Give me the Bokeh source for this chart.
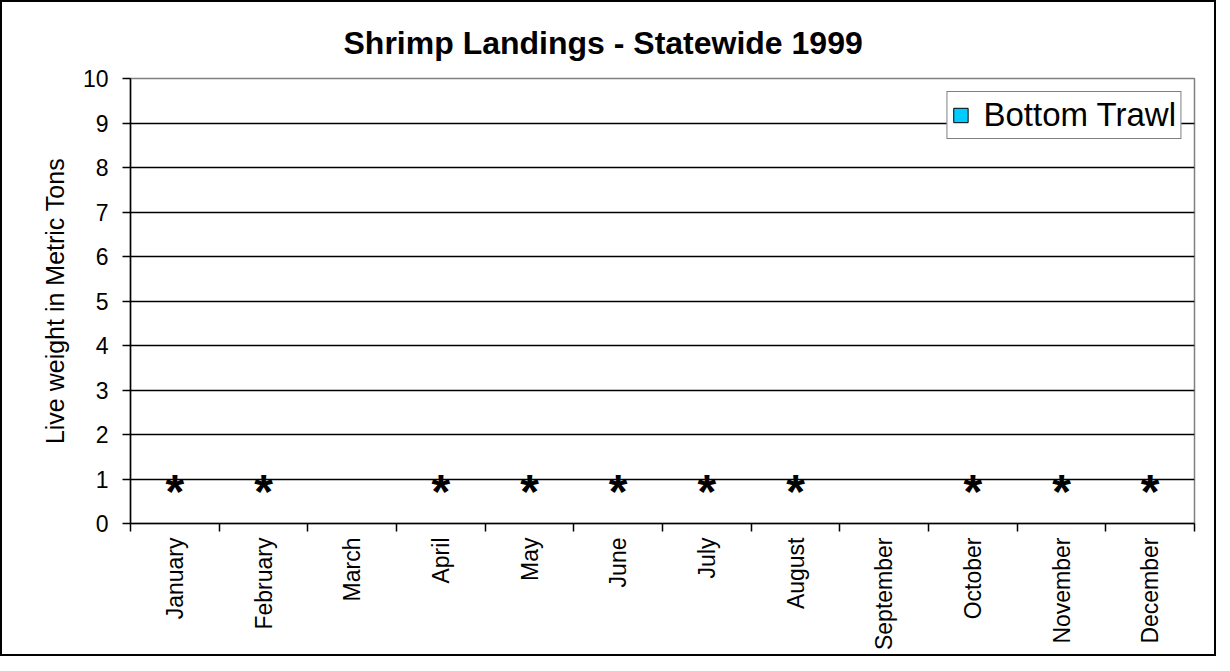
import math
from bokeh.plotting import figure
from bokeh.models import ColumnDataSource, FixedTicker, Range1d, Legend, LegendItem
from bokeh.core.properties import value
from bokeh.embed import file_html
from bokeh.resources import INLINE

# ---- data ----
months = ["January", "February", "March", "April", "May", "June", "July",
          "August", "September", "October", "November", "December"]
bottom_trawl = [0, 0, 0, 0, 0, 0, 0, 0, 0, 0, 0, 0]
confidential = ["*", "*", "", "*", "*", "*", "*", "*", "", "*", "*", "*"]
y_ticks = [0, 1, 2, 3, 4, 5, 6, 7, 8, 9, 10]

FONT = "Liberation Sans"

xs = [i + 0.5 for i in range(len(months))]
src = ColumnDataSource(dict(x=xs, month=months, trawl=bottom_trawl, flag=confidential))

W, H = 1216, 656
p = figure(width=W, height=H, output_backend="svg", toolbar_location=None,
           x_range=Range1d(0, len(months)), y_range=Range1d(0, 10),
           min_border_left=128, min_border_right=24, min_border_top=76,
           min_border_bottom=135)
p.styles = {"border": "2px solid black"}
p.background_fill_color = "white"
p.border_fill_color = "white"
p.outline_line_color = "#808080"
p.outline_line_width = 1.5

p.title.text = "Shrimp Landings - Statewide 1999"
p.title.align = "left"
p.title.offset = 213
p.title.text_font = FONT
p.title.text_font_size = "32px"
p.title.text_font_style = "bold"
p.title.text_color = "black"
p.title.standoff = 35

r = p.vbar(x="x", top="trawl", bottom=0, width=0.6, fill_color="#00CCFF",
           line_color="black", source=src)

p.text(x="x", y=1, text="flag", source=src, text_font=value(FONT),
       text_font_size="48px", text_font_style="bold", text_color="black",
       text_align="center", text_baseline="middle", y_offset=12)

# axes
p.xaxis.ticker = FixedTicker(ticks=xs, minor_ticks=list(range(len(months) + 1)))
p.xaxis.major_label_overrides = {x: m for x, m in zip(xs, months)}
p.xaxis.major_label_orientation = math.pi / 2
p.xaxis.major_tick_in = 0
p.xaxis.major_tick_out = 0
p.xaxis.minor_tick_in = 0
p.xaxis.minor_tick_out = 8
p.xaxis.minor_tick_line_color = "black"
p.xaxis.minor_tick_line_width = 1.5
p.xaxis.major_label_standoff = 6

p.yaxis.ticker = FixedTicker(ticks=y_ticks, minor_ticks=[])
p.yaxis.major_tick_in = 0
p.yaxis.major_tick_out = 8
p.yaxis.major_label_standoff = 14
p.yaxis.axis_label = "Live weight in Metric Tons"
p.yaxis.axis_label_standoff = 11

for ax in (p.xaxis[0], p.yaxis[0]):
    ax.axis_line_color = "black"
    ax.axis_line_width = 1.5
    ax.major_tick_line_color = "black"
    ax.major_tick_line_width = 1.5
    ax.major_label_text_font = FONT
    ax.major_label_text_font_size = "23px"
    ax.major_label_text_color = "black"
    ax.axis_label_text_font = FONT
    ax.axis_label_text_font_size = "25px"
    ax.axis_label_text_font_style = "normal"
    ax.axis_label_text_color = "black"

p.xgrid.visible = False
p.ygrid.ticker = FixedTicker(ticks=y_ticks[1:-1], minor_ticks=[])
p.ygrid.grid_line_color = "black"
p.ygrid.grid_line_width = 1.5

legend = Legend(items=[LegendItem(label="Bottom Trawl", renderers=[r])],
                location="top_right", margin=13, padding=4, spacing=0,
                label_standoff=14, glyph_width=18, glyph_height=18,
                label_text_font=FONT, label_text_font_size="33px",
                label_text_color="black", border_line_color="black",
                border_line_width=1.5, background_fill_color="white",
                background_fill_alpha=1.0)
p.add_layout(legend)

open("out.html", "w").write(file_html(p, INLINE))
